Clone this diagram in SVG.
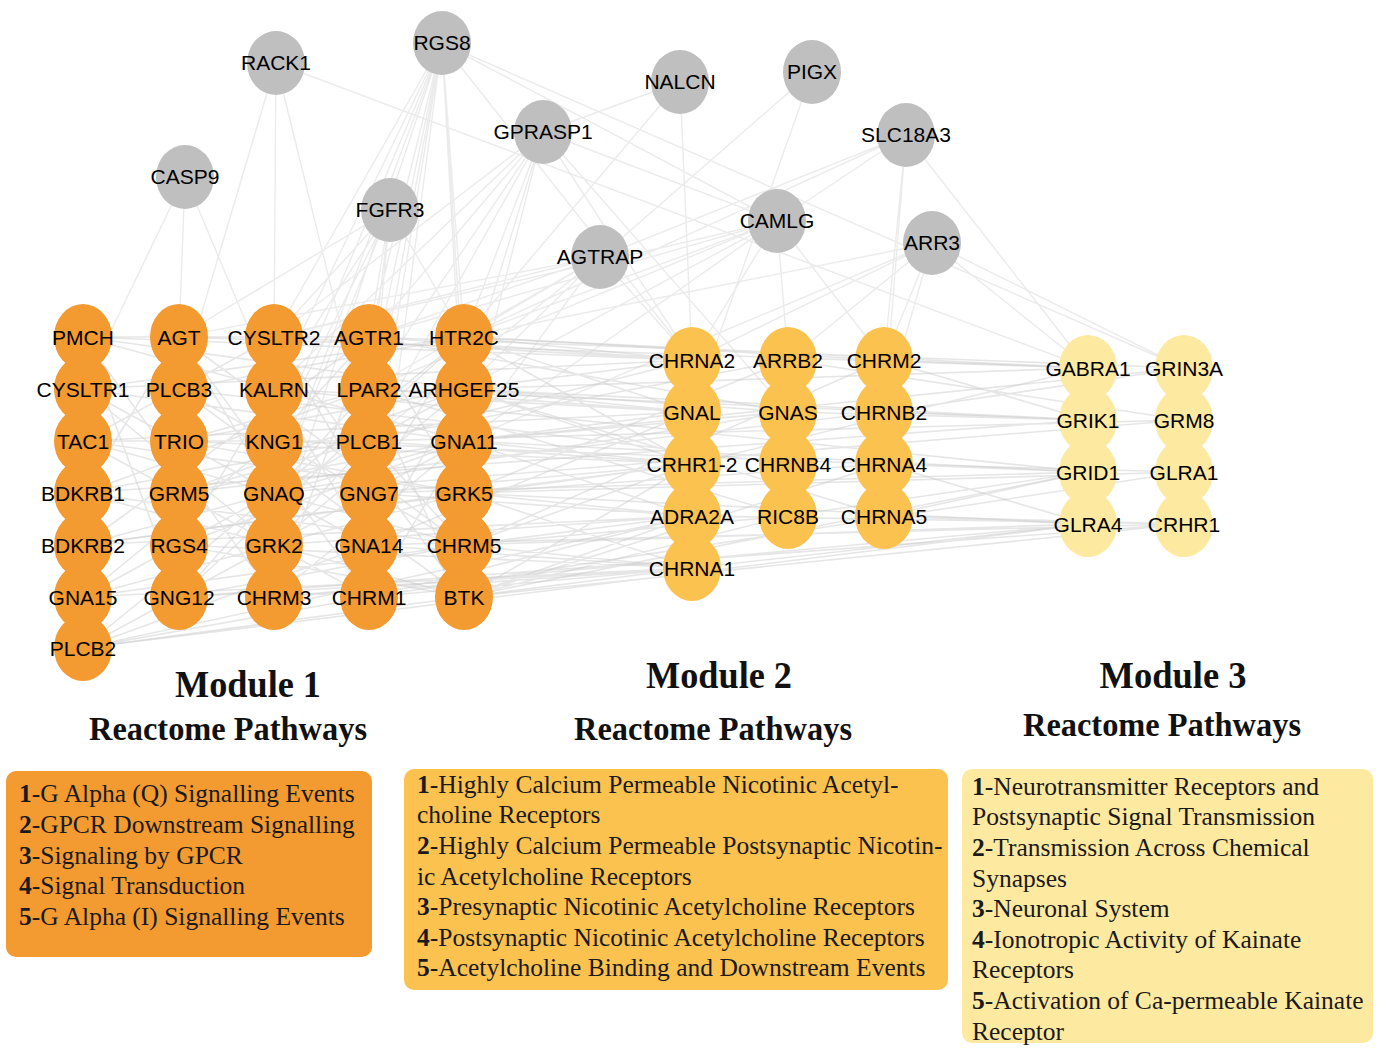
<svg xmlns="http://www.w3.org/2000/svg" width="1386" height="1059" viewBox="0 0 1386 1059">
<style>
.e{stroke:#c8c8c8;stroke-width:1.6;stroke-opacity:0.45;fill:none}
.eg{stroke:#d2d2d2;stroke-width:1.4;stroke-opacity:0.45;fill:none}
.g ellipse{fill:#bfbfbf}
.m1 ellipse{fill:#f39a30}
.m2 ellipse{fill:#fbc24f}
.m3 ellipse{fill:#fde9a0}
.n text{font-family:"Liberation Sans",Arial,sans-serif;font-size:21px;fill:#000;text-anchor:middle}
.t{font-family:"Liberation Serif","Times New Roman",serif;font-weight:bold;fill:#111;text-anchor:middle}
.bx{font-family:"Liberation Serif","Times New Roman",serif;font-size:25.5px;fill:#1a1a1a}
.bx tspan.b{font-weight:bold}
</style>
<rect width="1386" height="1059" fill="#fff"/>
<g id="connectors">
<path class="e" d="M83 337L369 337M83 337L464 441M83 389L464 337M83 389L274 493M83 441L369 441M83 441L464 493M83 493L369 389M83 493L464 545M83 545L464 441M83 545L369 337M83 597L464 493M83 597L274 441M83 648L369 597M83 648L369 545M83 648L464 337M179 337L274 493M179 337L464 545M179 389L369 493M179 389L464 597M179 441L369 389M179 441L464 493M179 493L369 441M179 493L464 389M179 545L464 441M179 545L274 389M179 597L274 493M179 597L464 337M274 337L369 493M274 337L464 597M274 389L369 545M274 441L369 337M274 441L464 545M274 493L464 337M274 493L369 389M274 545L464 389M274 545L369 441M274 597L464 441M274 597L369 337M369 337L464 493M369 389L464 597M369 441L464 545M369 493L464 337M369 545L464 389M369 597L464 441M83 337L274 597M83 389L274 545M83 441L369 597M83 493L179 337M83 337L179 597M83 441L274 337M179 337L369 597M83 597L464 389M83 389L369 545M83 337L464 389M83 389L464 441M83 441L464 545M83 493L464 597M83 545L464 493M83 597L464 545M83 648L464 597M83 648L464 441M179 389L464 337M179 441L464 389M179 493L464 441M179 545L464 597M179 597L464 545"/>
<path class="e" d="M464 337L692 360M464 337L692 412M464 337L884 360M464 389L692 412M464 389L692 464M464 441L692 464M464 441L788 412M464 441L692 516M464 493L692 516M464 493L692 568M464 493L788 360M464 545L692 568M464 545L692 516M464 545L884 360M464 597L692 568M464 597L692 464M369 337L692 360M369 337L788 412M369 545L692 412M369 597L692 516M369 493L692 464M274 493L788 412M274 597L692 568M274 337L692 360M83 337L692 360M83 597L692 568M83 648L692 516M83 441L692 412M83 545L692 464M179 389L788 464M179 493L884 412M274 441L884 464M369 389L788 516M464 389L884 516M464 597L884 464M369 441L692 360M179 545L692 568M83 493L788 360M464 337L692 464M464 389L692 360M464 389L788 412M464 441L692 412M464 493L692 464M464 493L884 464M464 545L692 464M464 545L788 516M464 597L692 516M464 597L788 516M369 389L692 412M369 441L692 464M369 493L692 516M369 545L692 568M369 597L692 568M274 389L692 412M274 545L692 516M179 441L692 464M179 597L692 568M83 389L692 360M83 545L692 516"/>
<path class="e" d="M464 337L1088 368M464 389L1088 420M464 441L1088 472M464 493L1088 524M464 545L1088 524M464 597L1088 472M274 493L1184 420M274 597L1088 524M369 337L1184 368M369 441L1184 420M369 545L1184 524M369 597L1184 472M83 493L1088 420M83 648L1088 524M179 597L1184 524M179 337L1088 368M464 441L1184 368M274 389L1088 472M464 389L1088 368M464 493L1184 472M464 597L1184 524M369 389L1088 420M369 493L1088 472"/>
<path class="e" d="M884 360L1088 368M884 412L1088 420M884 464L1088 472M884 516L1088 524M884 516L1184 524M884 412L1184 368M884 464L1184 472M788 516L1088 472M692 568L1088 524M788 360L1184 420M788 412L1088 420M692 464L1088 368M692 516L1184 524M884 360L1088 420M884 464L1088 524M884 516L1088 472"/>
<path class="eg" d="M276 63L274 337M276 63L179 389M276 63L369 441M276 63L1088 368M442 43L274 337M442 43L274 389M442 43L369 337M442 43L369 389M442 43L369 441M442 43L274 493M442 43L464 337M442 43L464 389M442 43L464 441M442 43L369 493M442 43L274 441M442 43L274 545M442 43L369 597M442 43L1184 368M442 43L692 360M442 43L777 221M543 132L464 337M543 132L369 337M543 132L464 389M543 132L464 441M543 132L369 389M543 132L369 441M543 132L274 389M543 132L274 337M543 132L680 82M543 132L777 221M543 132L788 412M543 132L692 360M390 210L369 337M390 210L274 337M390 210L369 389M390 210L274 389M390 210L369 441M390 210L274 441M390 210L464 337M390 210L274 493M390 210L179 337M185 177L274 389M185 177L83 389M185 177L179 337M680 82L464 337M680 82L692 360M812 72L600 257M812 72L692 412M906 135L777 221M906 135L884 360M906 135L884 412M906 135L464 337M906 135L1088 368M906 135L600 257M777 221L369 337M777 221L464 337M777 221L464 389M777 221L369 389M777 221L464 441M777 221L274 337M777 221L788 360M777 221L692 360M777 221L884 360M600 257L464 337M600 257L369 337M600 257L464 389M600 257L369 389M600 257L464 441M600 257L274 337M600 257L369 441M600 257L692 360M600 257L179 337M932 243L1184 368M932 243L884 360M932 243L788 360M932 243L692 360M932 243L464 337M932 243L464 441M932 243L884 412M932 243L1088 368"/>
</g>
<g id="nodes-gray" class="n g">
<g id="n-RACK1"><ellipse cx="276" cy="63" rx="29" ry="32"/><text x="276" y="70">RACK1</text></g>
<g id="n-RGS8"><ellipse cx="442" cy="43" rx="29" ry="32"/><text x="442" y="50">RGS8</text></g>
<g id="n-NALCN"><ellipse cx="680" cy="82" rx="29" ry="32"/><text x="680" y="89">NALCN</text></g>
<g id="n-PIGX"><ellipse cx="812" cy="72" rx="29" ry="32"/><text x="812" y="79">PIGX</text></g>
<g id="n-GPRASP1"><ellipse cx="543" cy="132" rx="29" ry="32"/><text x="543" y="139">GPRASP1</text></g>
<g id="n-SLC18A3"><ellipse cx="906" cy="135" rx="29" ry="32"/><text x="906" y="142">SLC18A3</text></g>
<g id="n-CASP9"><ellipse cx="185" cy="177" rx="29" ry="32"/><text x="185" y="184">CASP9</text></g>
<g id="n-FGFR3"><ellipse cx="390" cy="210" rx="29" ry="32"/><text x="390" y="217">FGFR3</text></g>
<g id="n-CAMLG"><ellipse cx="777" cy="221" rx="29" ry="32"/><text x="777" y="228">CAMLG</text></g>
<g id="n-ARR3"><ellipse cx="932" cy="243" rx="29" ry="32"/><text x="932" y="250">ARR3</text></g>
<g id="n-AGTRAP"><ellipse cx="600" cy="257" rx="29" ry="32"/><text x="600" y="264">AGTRAP</text></g>
</g>
<g id="module1" class="n m1">
<g id="n-PMCH"><ellipse cx="83" cy="337" rx="29" ry="33"/><text x="83" y="345">PMCH</text></g>
<g id="n-CYSLTR1"><ellipse cx="83" cy="389" rx="29" ry="33"/><text x="83" y="397">CYSLTR1</text></g>
<g id="n-TAC1"><ellipse cx="83" cy="441" rx="29" ry="33"/><text x="83" y="449">TAC1</text></g>
<g id="n-BDKRB1"><ellipse cx="83" cy="493" rx="29" ry="33"/><text x="83" y="501">BDKRB1</text></g>
<g id="n-BDKRB2"><ellipse cx="83" cy="545" rx="29" ry="33"/><text x="83" y="553">BDKRB2</text></g>
<g id="n-GNA15"><ellipse cx="83" cy="597" rx="29" ry="33"/><text x="83" y="605">GNA15</text></g>
<g id="n-PLCB2"><ellipse cx="83" cy="648" rx="29" ry="33"/><text x="83" y="656">PLCB2</text></g>
<g id="n-AGT"><ellipse cx="179" cy="337" rx="29" ry="33"/><text x="179" y="345">AGT</text></g>
<g id="n-PLCB3"><ellipse cx="179" cy="389" rx="29" ry="33"/><text x="179" y="397">PLCB3</text></g>
<g id="n-TRIO"><ellipse cx="179" cy="441" rx="29" ry="33"/><text x="179" y="449">TRIO</text></g>
<g id="n-GRM5"><ellipse cx="179" cy="493" rx="29" ry="33"/><text x="179" y="501">GRM5</text></g>
<g id="n-RGS4"><ellipse cx="179" cy="545" rx="29" ry="33"/><text x="179" y="553">RGS4</text></g>
<g id="n-GNG12"><ellipse cx="179" cy="597" rx="29" ry="33"/><text x="179" y="605">GNG12</text></g>
<g id="n-CYSLTR2"><ellipse cx="274" cy="337" rx="29" ry="33"/><text x="274" y="345">CYSLTR2</text></g>
<g id="n-KALRN"><ellipse cx="274" cy="389" rx="29" ry="33"/><text x="274" y="397">KALRN</text></g>
<g id="n-KNG1"><ellipse cx="274" cy="441" rx="29" ry="33"/><text x="274" y="449">KNG1</text></g>
<g id="n-GNAQ"><ellipse cx="274" cy="493" rx="29" ry="33"/><text x="274" y="501">GNAQ</text></g>
<g id="n-GRK2"><ellipse cx="274" cy="545" rx="29" ry="33"/><text x="274" y="553">GRK2</text></g>
<g id="n-CHRM3"><ellipse cx="274" cy="597" rx="29" ry="33"/><text x="274" y="605">CHRM3</text></g>
<g id="n-AGTR1"><ellipse cx="369" cy="337" rx="29" ry="33"/><text x="369" y="345">AGTR1</text></g>
<g id="n-LPAR2"><ellipse cx="369" cy="389" rx="29" ry="33"/><text x="369" y="397">LPAR2</text></g>
<g id="n-PLCB1"><ellipse cx="369" cy="441" rx="29" ry="33"/><text x="369" y="449">PLCB1</text></g>
<g id="n-GNG7"><ellipse cx="369" cy="493" rx="29" ry="33"/><text x="369" y="501">GNG7</text></g>
<g id="n-GNA14"><ellipse cx="369" cy="545" rx="29" ry="33"/><text x="369" y="553">GNA14</text></g>
<g id="n-CHRM1"><ellipse cx="369" cy="597" rx="29" ry="33"/><text x="369" y="605">CHRM1</text></g>
<g id="n-HTR2C"><ellipse cx="464" cy="337" rx="29" ry="33"/><text x="464" y="345">HTR2C</text></g>
<g id="n-ARHGEF25"><ellipse cx="464" cy="389" rx="29" ry="33"/><text x="464" y="397">ARHGEF25</text></g>
<g id="n-GNA11"><ellipse cx="464" cy="441" rx="29" ry="33"/><text x="464" y="449">GNA11</text></g>
<g id="n-GRK5"><ellipse cx="464" cy="493" rx="29" ry="33"/><text x="464" y="501">GRK5</text></g>
<g id="n-CHRM5"><ellipse cx="464" cy="545" rx="29" ry="33"/><text x="464" y="553">CHRM5</text></g>
<g id="n-BTK"><ellipse cx="464" cy="597" rx="29" ry="33"/><text x="464" y="605">BTK</text></g>
</g>
<g id="module2" class="n m2">
<g id="n-CHRNA2"><ellipse cx="692" cy="360" rx="29" ry="33"/><text x="692" y="368">CHRNA2</text></g>
<g id="n-ARRB2"><ellipse cx="788" cy="360" rx="29" ry="33"/><text x="788" y="368">ARRB2</text></g>
<g id="n-CHRM2"><ellipse cx="884" cy="360" rx="29" ry="33"/><text x="884" y="368">CHRM2</text></g>
<g id="n-GNAL"><ellipse cx="692" cy="412" rx="29" ry="33"/><text x="692" y="420">GNAL</text></g>
<g id="n-GNAS"><ellipse cx="788" cy="412" rx="29" ry="33"/><text x="788" y="420">GNAS</text></g>
<g id="n-CHRNB2"><ellipse cx="884" cy="412" rx="29" ry="33"/><text x="884" y="420">CHRNB2</text></g>
<g id="n-CRHR1-2"><ellipse cx="692" cy="464" rx="29" ry="33"/><text x="692" y="472">CRHR1-2</text></g>
<g id="n-CHRNB4"><ellipse cx="788" cy="464" rx="29" ry="33"/><text x="788" y="472">CHRNB4</text></g>
<g id="n-CHRNA4"><ellipse cx="884" cy="464" rx="29" ry="33"/><text x="884" y="472">CHRNA4</text></g>
<g id="n-ADRA2A"><ellipse cx="692" cy="516" rx="29" ry="33"/><text x="692" y="524">ADRA2A</text></g>
<g id="n-RIC8B"><ellipse cx="788" cy="516" rx="29" ry="33"/><text x="788" y="524">RIC8B</text></g>
<g id="n-CHRNA5"><ellipse cx="884" cy="516" rx="29" ry="33"/><text x="884" y="524">CHRNA5</text></g>
<g id="n-CHRNA1"><ellipse cx="692" cy="568" rx="29" ry="33"/><text x="692" y="576">CHRNA1</text></g>
</g>
<g id="module3" class="n m3">
<g id="n-GABRA1"><ellipse cx="1088" cy="368" rx="29" ry="33"/><text x="1088" y="376">GABRA1</text></g>
<g id="n-GRIN3A"><ellipse cx="1184" cy="368" rx="29" ry="33"/><text x="1184" y="376">GRIN3A</text></g>
<g id="n-GRIK1"><ellipse cx="1088" cy="420" rx="29" ry="33"/><text x="1088" y="428">GRIK1</text></g>
<g id="n-GRM8"><ellipse cx="1184" cy="420" rx="29" ry="33"/><text x="1184" y="428">GRM8</text></g>
<g id="n-GRID1"><ellipse cx="1088" cy="472" rx="29" ry="33"/><text x="1088" y="480">GRID1</text></g>
<g id="n-GLRA1"><ellipse cx="1184" cy="472" rx="29" ry="33"/><text x="1184" y="480">GLRA1</text></g>
<g id="n-GLRA4"><ellipse cx="1088" cy="524" rx="29" ry="33"/><text x="1088" y="532">GLRA4</text></g>
<g id="n-CRHR1"><ellipse cx="1184" cy="524" rx="29" ry="33"/><text x="1184" y="532">CRHR1</text></g>
</g>
<g id="titles">
<text class="t" x="248" y="697" font-size="38" textLength="146" lengthAdjust="spacingAndGlyphs">Module 1</text>
<text class="t" x="228" y="740" font-size="33" textLength="278" lengthAdjust="spacingAndGlyphs">Reactome Pathways</text>
<text class="t" x="719" y="688" font-size="38" textLength="146" lengthAdjust="spacingAndGlyphs">Module 2</text>
<text class="t" x="713" y="740" font-size="33" textLength="278" lengthAdjust="spacingAndGlyphs">Reactome Pathways</text>
<text class="t" x="1173" y="688" font-size="38" textLength="147" lengthAdjust="spacingAndGlyphs">Module 3</text>
<text class="t" x="1162" y="736" font-size="33" textLength="278" lengthAdjust="spacingAndGlyphs">Reactome Pathways</text>
</g>
<g id="box1">
<rect x="6" y="771" width="366" height="186" rx="10" fill="#f39a30"/>
<text class="bx" x="19" y="802"><tspan class="b">1</tspan>-G Alpha (Q) Signalling Events</text>
<text class="bx" x="19" y="833"><tspan class="b">2</tspan>-GPCR Downstream Signalling</text>
<text class="bx" x="19" y="864"><tspan class="b">3</tspan>-Signaling by GPCR</text>
<text class="bx" x="19" y="894"><tspan class="b">4</tspan>-Signal Transduction</text>
<text class="bx" x="19" y="925"><tspan class="b">5</tspan>-G Alpha (I) Signalling Events</text>
</g>
<g id="box2">
<rect x="404" y="769" width="544" height="221" rx="10" fill="#fbc24f"/>
<text class="bx" x="417" y="793"><tspan class="b">1</tspan>-Highly Calcium Permeable Nicotinic Acetyl-</text>
<text class="bx" x="417" y="823">choline Receptors</text>
<text class="bx" x="417" y="854"><tspan class="b">2</tspan>-Highly Calcium Permeable Postsynaptic Nicotin-</text>
<text class="bx" x="417" y="885">ic Acetylcholine Receptors</text>
<text class="bx" x="417" y="915"><tspan class="b">3</tspan>-Presynaptic Nicotinic Acetylcholine Receptors</text>
<text class="bx" x="417" y="946"><tspan class="b">4</tspan>-Postsynaptic Nicotinic Acetylcholine Receptors</text>
<text class="bx" x="417" y="976"><tspan class="b">5</tspan>-Acetylcholine Binding and Downstream Events</text>
</g>
<g id="box3">
<rect x="962" y="769" width="411" height="274" rx="10" fill="#fde9a0"/>
<text class="bx" x="972" y="795"><tspan class="b">1</tspan>-Neurotransmitter Receptors and</text>
<text class="bx" x="972" y="825">Postsynaptic Signal Transmission</text>
<text class="bx" x="972" y="856"><tspan class="b">2</tspan>-Transmission Across Chemical</text>
<text class="bx" x="972" y="887">Synapses</text>
<text class="bx" x="972" y="917"><tspan class="b">3</tspan>-Neuronal System</text>
<text class="bx" x="972" y="948"><tspan class="b">4</tspan>-Ionotropic Activity of Kainate</text>
<text class="bx" x="972" y="978">Receptors</text>
<text class="bx" x="972" y="1009"><tspan class="b">5</tspan>-Activation of Ca-permeable Kainate</text>
<text class="bx" x="972" y="1040">Receptor</text>
</g>
</svg>
